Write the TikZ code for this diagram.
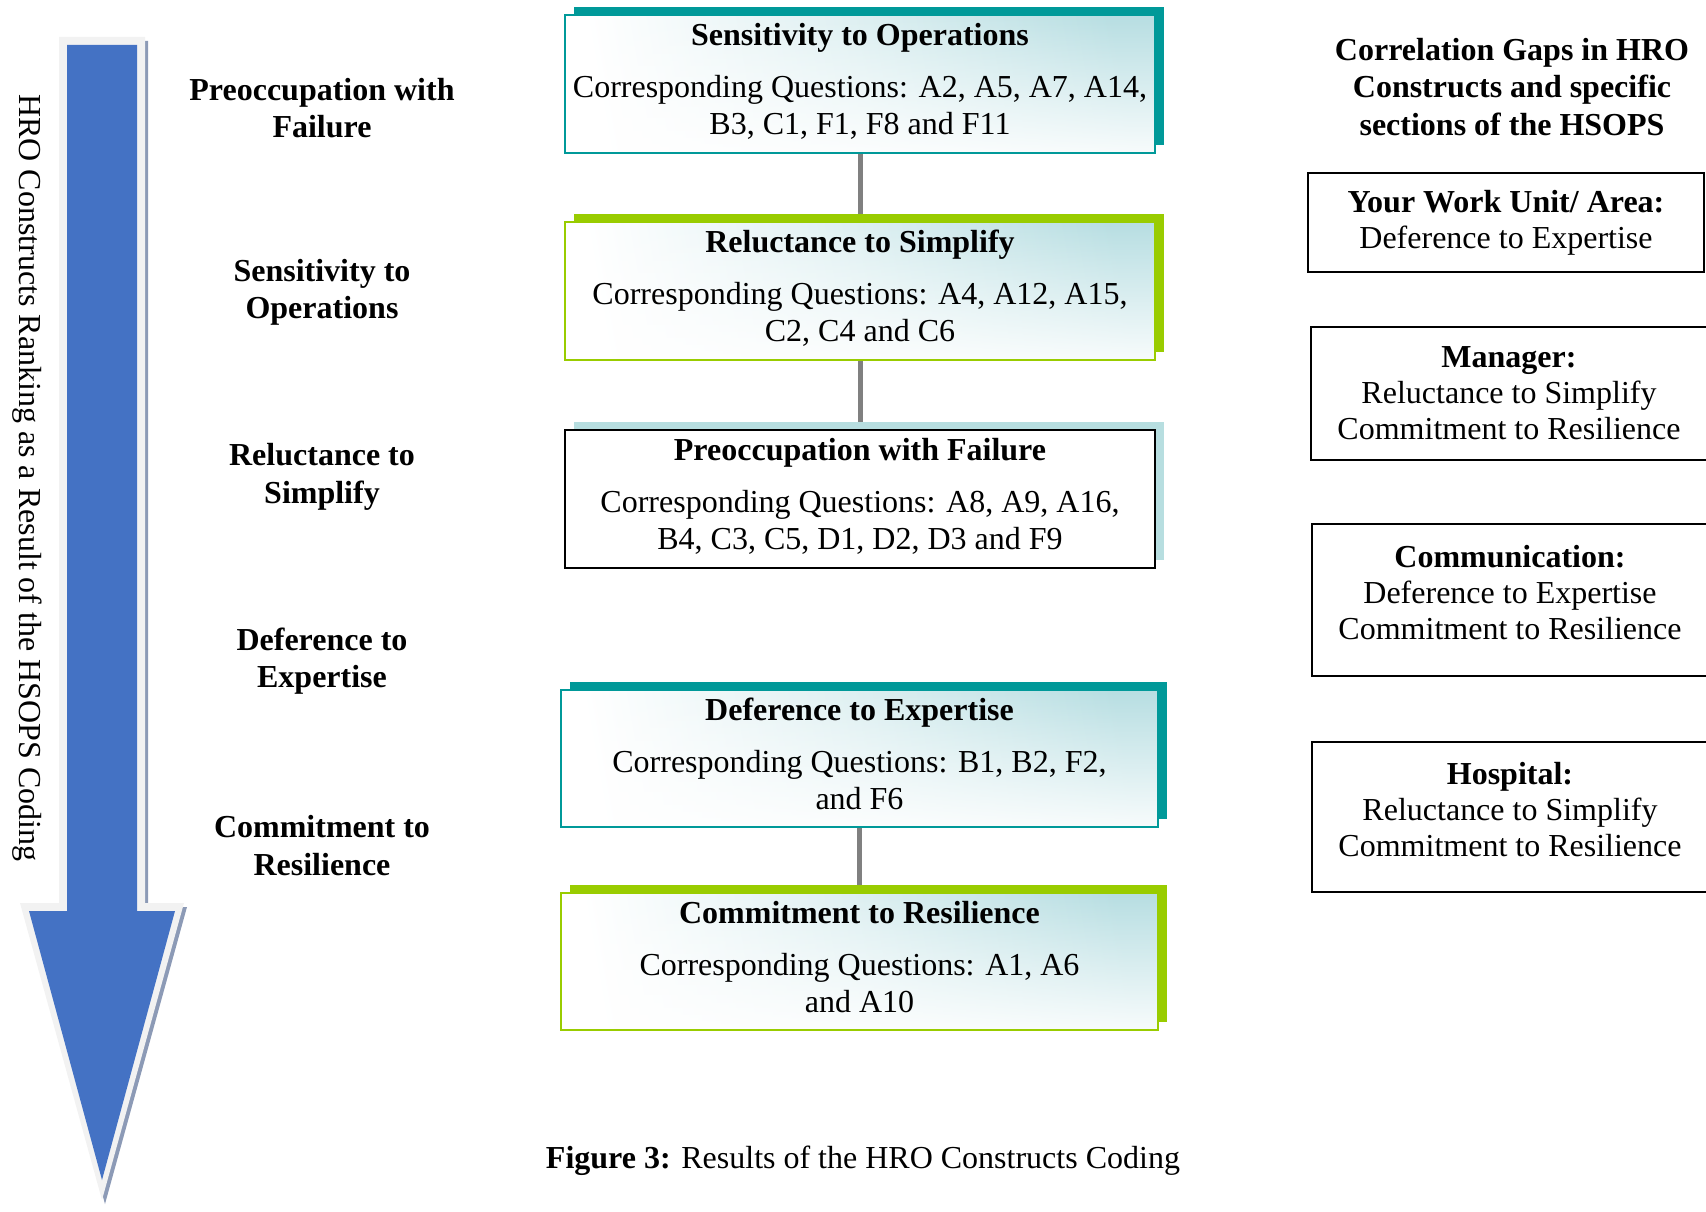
\documentclass[tikz,border=0pt]{standalone}
\usepackage{fontspec}
\setmainfont{Liberation Serif}
\usetikzlibrary{shadows,backgrounds,fadings}
\definecolor{tealD}{RGB}{0,153,153}
\definecolor{greenD}{RGB}{153,204,0}
\definecolor{lightB}{RGB}{183,222,224}
\definecolor{gradT}{RGB}{183,222,226}
\definecolor{arrowB}{RGB}{68,114,196}
\definecolor{arrowO}{RGB}{242,242,242}
\definecolor{arrowS}{RGB}{140,154,182}
\definecolor{connG}{RGB}{128,128,128}
\tikzfading[name=botwhite, top color=transparent!100, middle color=transparent!75, bottom color=transparent!10]
\begin{document}
\begin{tikzpicture}[x=1pt,y=-1pt,
  base/.style={font=\fontsize{32pt}{37pt}\selectfont, align=center, inner sep=0pt},
  midbox/.style={base, rectangle, minimum width=590pt, minimum height=138pt, line width=2pt, text depth=10pt},
  gradfill/.style={preaction={left color=white, right color=gradT, middle color=gradT!45, shading angle=100},
    preaction={fill=white, path fading=botwhite}},
  tealbox/.style={midbox, general shadow={fill=tealD, shadow xshift=9pt, shadow yshift=8pt}, gradfill, draw=tealD},
  greenbox/.style={midbox, general shadow={fill=greenD, shadow xshift=9pt, shadow yshift=8pt}, gradfill, draw=greenD},
  plainbox/.style={midbox, draw=black, fill=white,
    general shadow={fill=lightB, shadow xshift=9pt, shadow yshift=8pt}},
  rbox/.style={base, font=\fontsize{32pt}{36pt}\selectfont, draw=black, line width=2pt, minimum width=396pt},
  label/.style={base, font=\fontsize{32pt}{37.5pt}\selectfont\bfseries},
  conn/.style={draw=connG, line width=5pt},
]
\useasboundingbox (0,0) rectangle (1706,1212);

% ranking arrow
\fill[arrowS] (62,41) -- (148,41) -- (148,907) -- (187,907) -- (105,1204) -- (23,907) -- (62,907) -- cycle;
\fill[arrowO] (59,37) -- (145,37) -- (145,903) -- (184,903) -- (102,1200) -- (20,903) -- (59,903) -- cycle;
\fill[arrowB] (67,45) -- (137,45) -- (137,911) -- (175,911) -- (102,1180) -- (29,911) -- (67,911) -- cycle;
\node[base, rotate=-90] (rank) at (27,478) {HRO Constructs Ranking as a Result of the HSOPS Coding};

% left labels
\node[label] (l1) at (322,108) {Preoccupation with\\Failure};
\node[label] (l2) at (322,292.5) {Sensitivity to\\Operations};
\node[label] (l3) at (322,477) {Reluctance to\\Simplify};
\node[label] (l4) at (322,661) {Deference to\\Expertise};
\node[label] (l5) at (322,845.5) {Commitment to\\Resilience};

% middle boxes
\node[tealbox] (b1) at (860,84) {{\bfseries Sensitivity to Operations}\\[15pt]Corresponding Questions: A2, A5, A7, A14,\\B3, C1, F1, F8 and F11};
\node[greenbox] (b2) at (860,291) {{\bfseries Reluctance to Simplify}\\[15pt]Corresponding Questions: A4, A12, A15,\\C2, C4 and C6};
\node[plainbox] (b3) at (860,499) {{\bfseries Preoccupation with Failure}\\[15pt]Corresponding Questions: A8, A9, A16,\\B4, C3, C5, D1, D2, D3 and F9};
\node[tealbox, minimum width=597pt, minimum height=137pt] (b4) at (859.5,758.5) {{\bfseries Deference to Expertise}\\[15pt]Corresponding Questions: B1, B2, F2,\\and F6};
\node[greenbox, minimum width=597pt, minimum height=137pt] (b5) at (859.5,961.5) {{\bfseries Commitment to Resilience}\\[15pt]Corresponding Questions: A1, A6\\and A10};

\begin{pgfonlayer}{background}
\draw[conn] (b1.south) -- (b2.north);
\draw[conn] (b2.south) -- (b3.north);
\draw[conn] (b4.south) -- (b5.north);
\end{pgfonlayer}

% right column
\node[label] (rt) at (1512,87) {Correlation Gaps in HRO\\Constructs and specific\\sections of the HSOPS};
\node[rbox, minimum height=99pt] (r1) at (1506,222.5) {{\bfseries Your Work Unit/ Area:}\\Deference to Expertise};
\node[rbox, minimum height=133pt] (r2) at (1509,393.5) {{\bfseries Manager:}\\Reluctance to Simplify\\Commitment to Resilience};
\node[rbox, minimum height=152pt, text depth=16pt] (r3) at (1510,600) {{\bfseries Communication:}\\Deference to Expertise\\Commitment to Resilience};
\node[rbox, minimum height=150pt, text depth=16pt] (r4) at (1510,817) {{\bfseries Hospital:}\\Reluctance to Simplify\\Commitment to Resilience};

% caption
\node[base] (cap) at (863,1161) {\textbf{Figure 3:} Results of the HRO Constructs Coding};
\end{tikzpicture}
\end{document}
